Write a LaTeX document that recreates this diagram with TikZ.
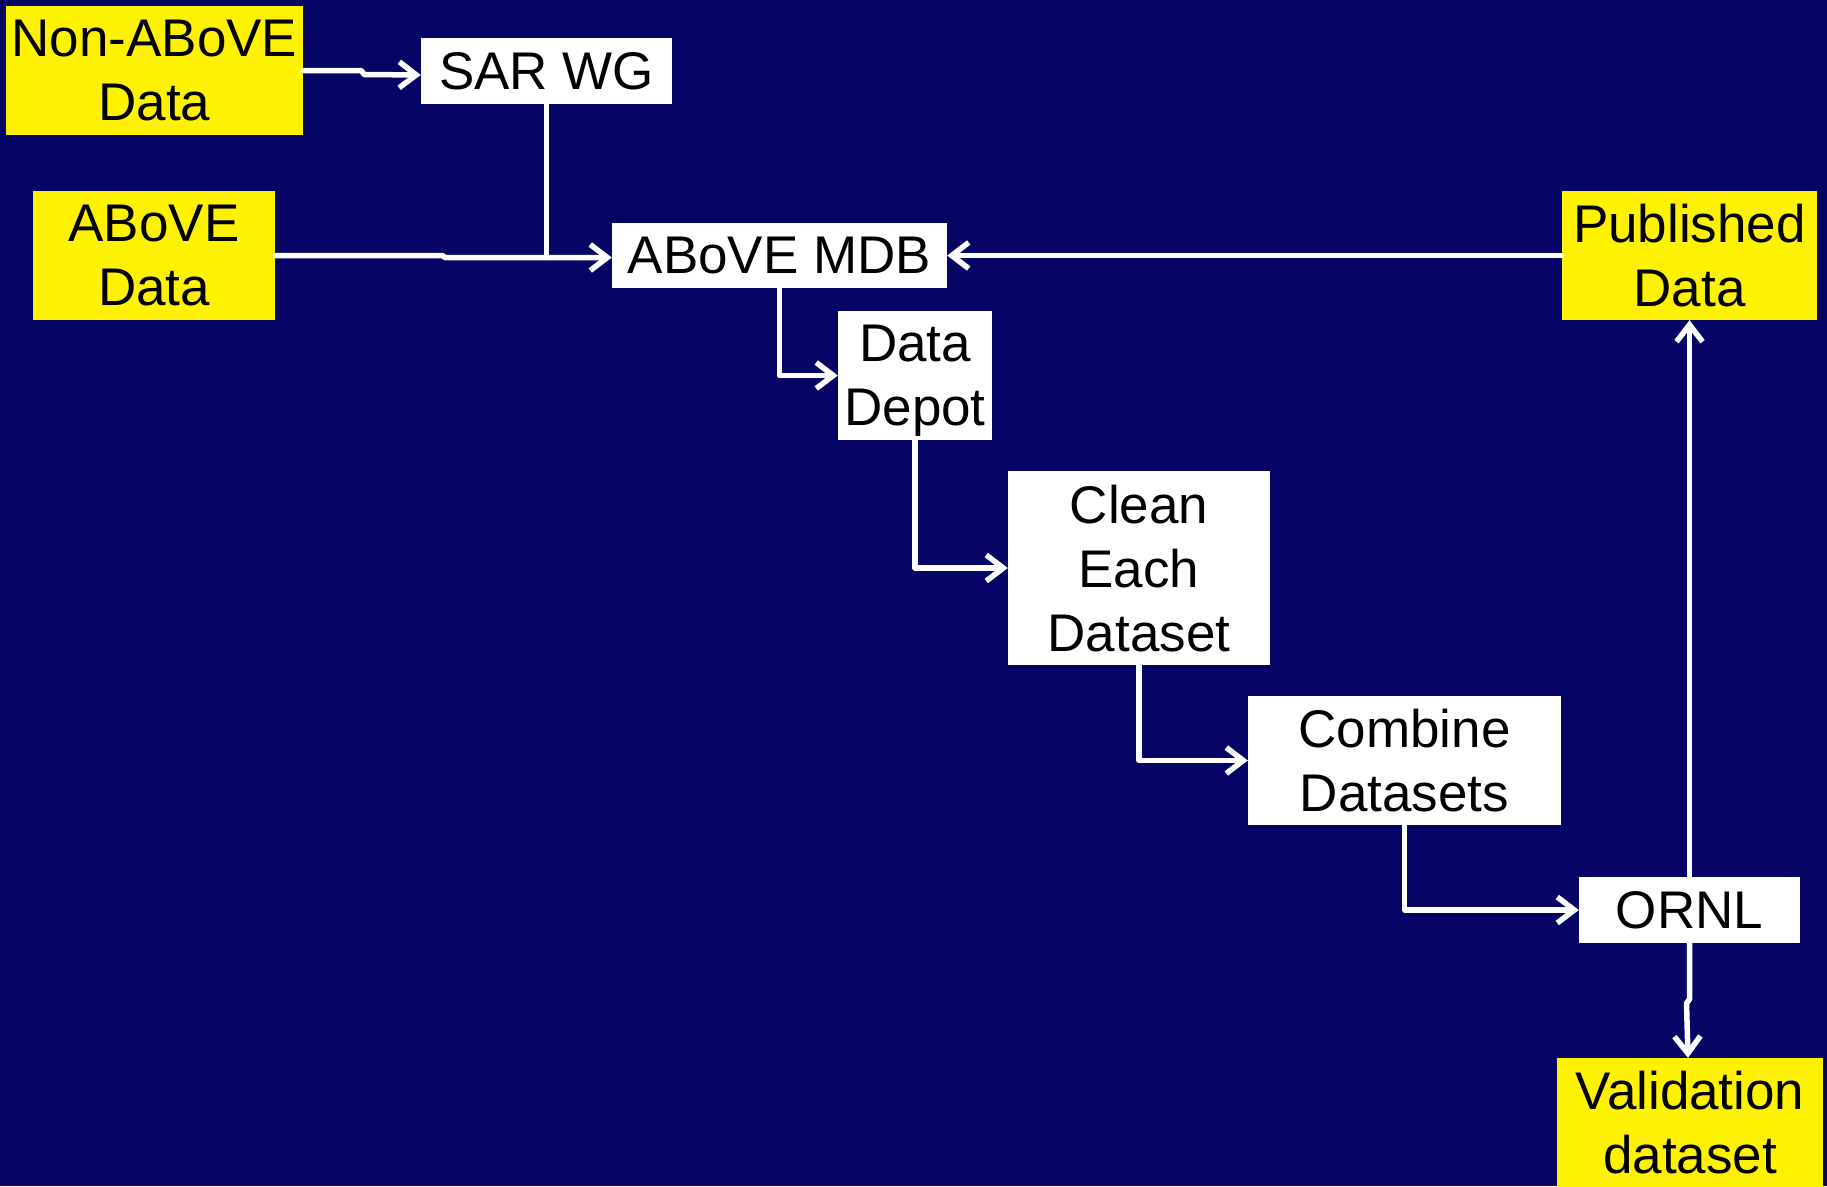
\documentclass[tikz,border=0pt]{standalone}
\usepackage{fontspec}
\setmainfont{Liberation Sans}
\usetikzlibrary{arrows.meta}
\definecolor{navy}{RGB}{6,5,102}
\begin{document}
\begin{tikzpicture}[x=1pt,y=-1pt,>={Straight Barb[length=17pt,width=26pt]},line join=round,line cap=round,
	font=\fontsize{53}{64}\selectfont,
	box/.style={fill=white,text=black,inner sep=0pt,align=center,text depth=0pt},
	ybox/.style={box,fill=yellow},
	wire/.style={draw=white,line width=5.5pt}]
	\useasboundingbox (0,0) rectangle (1827,1186);
	\fill[navy] (0,0) rectangle (1827,1186);
	\clip (0,0) rectangle (1827,1186);
	% sources
	\node[ybox,minimum width=297pt,minimum height=129pt] (nonabove) at (154.5,70.5) {Non-ABoVE\\Data};
	\node[ybox,minimum width=242pt,minimum height=129pt] (abovedata) at (154,255.5) {ABoVE\\Data};
	\node[box,minimum width=251pt,minimum height=66pt] (sarwg) at (546.5,71) {SAR WG};
	\node[box,minimum width=335pt,minimum height=65pt] (mdb) at (779.5,255.5) {ABoVE MDB};
	\node[ybox,minimum width=255pt,minimum height=129pt] (published) at (1689.5,255.5) {Published\\Data};
	% processing chain
	\node[box,minimum width=154pt,minimum height=129pt] (depot) at (915,375.5) {Data\\Depot};
	\node[box,minimum width=262pt,minimum height=194pt] (clean) at (1139,568) {Clean\\Each\\Dataset};
	\node[box,minimum width=313pt,minimum height=129pt] (combine) at (1404.5,760.5) {Combine\\Datasets};
	\node[box,minimum width=221pt,minimum height=66pt] (ornl) at (1689.5,910) {ORNL};
	\node[ybox,minimum width=266pt,minimum height=129pt] (valid) at (1690,1122.5) {Validation\\dataset};
	% connectors
	\draw[wire,->] (nonabove.east) -- ++(58,0) -- ++(3,4) -- ([yshift=-4pt]sarwg.west);
	\draw[wire,->] (abovedata.east) -- ++(167,0) -- ++(3,2) -- ([yshift=-2pt]mdb.west);
	\draw[wire] (sarwg.south) -- (sarwg.south |- abovedata.east);
	\draw[wire,->] (published.west) -- (mdb.east);
	\draw[wire,->] (mdb.south) |- (depot.west);
	\draw[wire,->] (depot.south) |- (clean.west);
	\draw[wire,->] (clean.south) |- (combine.west);
	\draw[wire,->] (combine.south) |- (ornl.west);
	\draw[wire,->] (ornl.north) -- (published.south);
	\draw[wire,->] (ornl.south) -- ++(0,56) -- ++(-3,4) -- ([xshift=-2pt]valid.north);
\end{tikzpicture}
\end{document}
